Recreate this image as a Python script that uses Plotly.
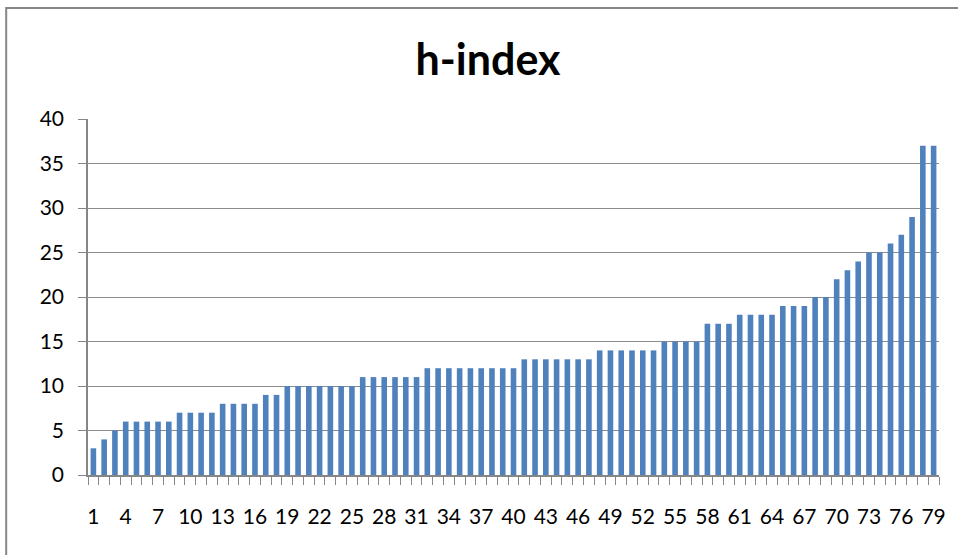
import plotly.graph_objects as go

categories = list(range(1, 80))
h_index = [3, 4, 5, 6, 6, 6, 6, 6, 7, 7, 7, 7, 8, 8, 8, 8, 9, 9,
           10, 10, 10, 10, 10, 10, 10,
           11, 11, 11, 11, 11, 11,
           12, 12, 12, 12, 12, 12, 12, 12, 12,
           13, 13, 13, 13, 13, 13, 13,
           14, 14, 14, 14, 14, 14,
           15, 15, 15, 15,
           17, 17, 17,
           18, 18, 18, 18,
           19, 19, 19,
           20, 20,
           22, 23, 24, 25, 25, 26, 27, 29, 37, 37]
x_tick_labels = list(range(1, 80, 3))
y_ticks = [0, 5, 10, 15, 20, 25, 30, 35, 40]

FONT = "Lato, Calibri, Carlito, sans-serif"

fig = go.Figure(
    go.Bar(x=categories, y=h_index, marker=dict(color="#4F81BD", line=dict(width=0)),
           width=0.52)
)

fig.update_layout(
    width=958, height=555,
    margin=dict(l=88, r=17, t=119, b=80),
    paper_bgcolor="white", plot_bgcolor="white",
    showlegend=False,
    title=dict(text="<b>h-index</b>", x=488 / 958, xanchor="center", y=1 - 60 / 555,
               yanchor="middle", font=dict(family=FONT, size=43, color="black")),
    font=dict(family=FONT, size=21, color="black"),
)

fig.update_xaxes(
    range=[0.5, 79.5],
    tickmode="array", tickvals=x_tick_labels, ticktext=[str(v) for v in x_tick_labels],
    ticks="", ticklabelstandoff=22,
    tickfont=dict(family=FONT, size=21, color="black"),
    showline=True, linecolor="#868686", linewidth=1.5,
    showgrid=False, zeroline=False,
    minor=dict(tick0=0.5, dtick=1, ticks="outside", ticklen=8, tickcolor="#868686",
               tickwidth=1, showgrid=False),
)

fig.update_yaxes(
    range=[0, 40], tickmode="array", tickvals=y_ticks,
    ticks="outside", ticklen=8, tickcolor="#868686", tickwidth=1,
    ticklabelstandoff=10,
    tickfont=dict(family=FONT, size=21, color="black"),
    showline=True, linecolor="#868686", linewidth=1.5,
    showgrid=True, gridcolor="#8c8c8c", gridwidth=1.3,
    zeroline=False,
)

# Chart-area border (cropped at the right and bottom in the reference)
fig.add_shape(type="rect", xref="paper", yref="paper",
              x0=(6 - 88) / 853, x1=1.2, y0=-0.4, y1=(475 - 8) / 356,
              line=dict(color="#868686", width=2), fillcolor="rgba(0,0,0,0)", layer="below")

fig.write_html("out.html", config={"displayModeBar": False},
               post_script="document.body.style.margin='0';")
